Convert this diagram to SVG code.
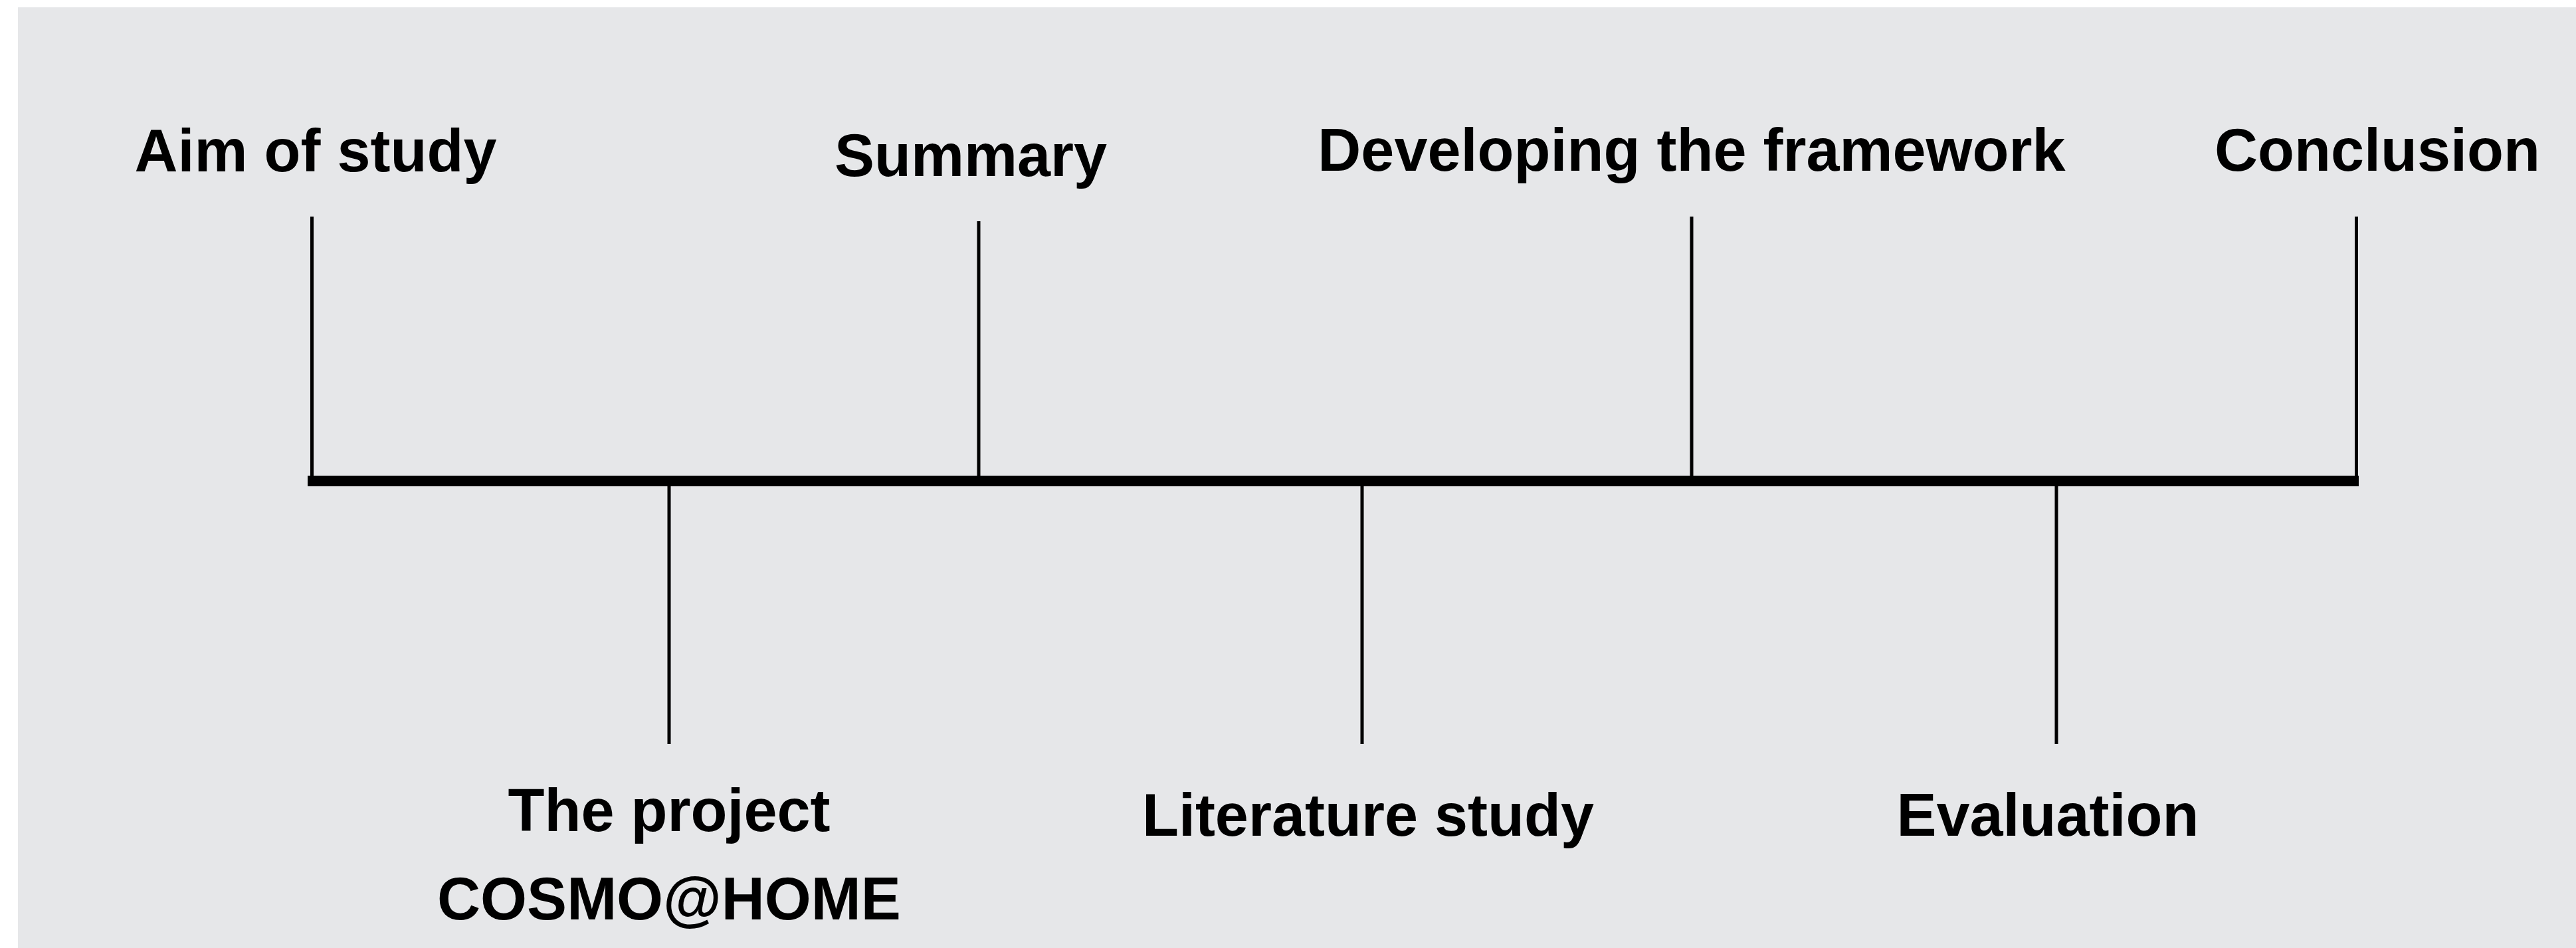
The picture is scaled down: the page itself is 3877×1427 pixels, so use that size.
<svg xmlns="http://www.w3.org/2000/svg" width="3877" height="1427" viewBox="0 0 3877 1427">
<style>
.lbl{font-family:"Liberation Sans",Arial,Helvetica,sans-serif;font-weight:bold;font-size:90px;fill:#000;text-anchor:middle}
.tick{stroke:#000;stroke-width:5;fill:none}
</style>
<rect x="0" y="0" width="3877" height="1427" fill="#ffffff"/>
<rect x="27" y="11" width="3850" height="1416" fill="#e6e7e9"/>
<g id="connectors">
<rect id="axis" x="463" y="716" width="3087" height="16" fill="#000"/>
<line class="tick" x1="469.5" y1="326" x2="469.5" y2="716"/>
<line class="tick" x1="1473" y1="333" x2="1473" y2="716"/>
<line class="tick" x1="2546" y1="326" x2="2546" y2="716"/>
<line class="tick" x1="3546.5" y1="326" x2="3546.5" y2="716"/>
<line class="tick" x1="1007" y1="732" x2="1007" y2="1120"/>
<line class="tick" x1="2050" y1="732" x2="2050" y2="1120"/>
<line class="tick" x1="3095" y1="732" x2="3095" y2="1120"/>
</g>
<g id="aim"><text class="lbl" x="475" y="258">Aim of study</text></g>
<g id="summary"><text class="lbl" x="1461" y="265">Summary</text></g>
<g id="developing"><text class="lbl" x="2546" y="257">Developing the framework</text></g>
<g id="conclusion"><text class="lbl" x="3578" y="257">Conclusion</text></g>
<g id="project"><text class="lbl" x="1007" y="1251">The project</text><text class="lbl" x="1007" y="1384">COSMO@HOME</text></g>
<g id="literature"><text class="lbl" x="2059" y="1258">Literature study</text></g>
<g id="evaluation"><text class="lbl" x="3082" y="1258">Evaluation</text></g>
</svg>
